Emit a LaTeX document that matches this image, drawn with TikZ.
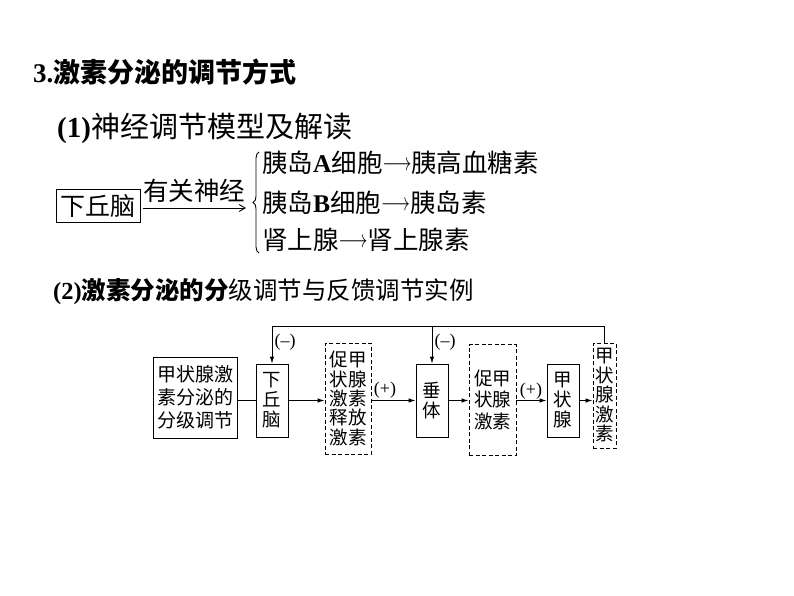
\documentclass[tikz,border=0pt]{standalone}
\usepackage{fontspec}
\setmainfont{Noto Sans CJK SC}
\newfontfamily\lat{Liberation Serif}
\usetikzlibrary{arrows.meta,decorations.pathreplacing}
\newcommand{\myarr}{\raisebox{0.1em}{\scalebox{0.72}[1]{$\longrightarrow$}}}
\begin{document}
\begin{tikzpicture}[x=1pt,y=-1pt,
  box/.style={draw, line width=0.9pt, inner sep=0pt, align=center, font=\fontsize{18.5}{20}\selectfont},
  dbox/.style={box, dash pattern=on 4pt off 2.5pt},
  arr/.style={line width=0.9pt, -{Latex[length=7pt,width=4.5pt]}},
  ln/.style={line width=0.9pt},
  lbl/.style={inner sep=0pt, font=\lat\fontsize{18}{18}\selectfont},
  txt/.style={inner sep=0pt, anchor=west}
]
\useasboundingbox (0,0) rectangle (794,596);
% headings
\node[txt] (h3) at (33,72) {\fontsize{27}{27}\selectfont\bfseries{\lat 3.}激素分泌的调节方式};
\node[txt] (h1) at (57,128) {\fontsize{29}{29}\selectfont{\lat\bfseries (1)}神经调节模型及解读};
\node[txt] (h2) at (53,292) {\fontsize{24.5}{24.5}\selectfont{\lat\bfseries (2)}\textbf{激素分泌的分}级调节与反馈调节实例};
% part (1)
\node[draw, line width=0.8pt, inner sep=0pt, minimum width=84pt, minimum height=33pt,
      font=\fontsize{25}{25}\selectfont] (hyp) at (98,206) {下丘脑};
\node[inner sep=0pt, font=\fontsize{25.5}{25.5}\selectfont] (nerve) at (194,191) {有关神经};
\coordinate (brl) at (246,208);
\draw[line width=0.9pt, -{Straight Barb[length=6pt,width=7pt]}] (hyp.east |- brl) ++(3,0) coordinate (arS) -- (brl);
\coordinate (bb) at (259,253);
\coordinate (bt) at (259,152);
\draw[line width=0.9pt, decorate, decoration={brace, amplitude=6pt}] (bb) -- (bt);
\node[txt, font=\fontsize{25.5}{25.5}\selectfont] (r1) at (262,163) {胰岛{\lat\bfseries A}细胞\myarr 胰高血糖素};
\node[txt, font=\fontsize{25.5}{25.5}\selectfont] (r2) at (262,203) {胰岛{\lat\bfseries B}细胞\myarr 胰岛素};
\node[txt, font=\fontsize{25.5}{25.5}\selectfont] (r3) at (262,240) {肾上腺\myarr 肾上腺素};
% part (2) diagram
\node[box, minimum width=84pt, minimum height=81pt, font=\fontsize{19}{23}\selectfont] (b1) at (195,397.5) {甲状腺激\\素分泌的\\分级调节};
\node[box, minimum width=32pt, minimum height=73pt] (hq) at (272,400.5) {下\\丘\\脑};
\node[dbox, minimum width=46pt, minimum height=111pt, font=\fontsize{18.5}{19.4}\selectfont] (d1) at (348,398.5) {促甲\\状腺\\激素\\释放\\激素};
\node[box, minimum width=32pt, minimum height=73pt] (pit) at (432,400.5) {垂\\体};
\node[dbox, minimum width=47pt, minimum height=111pt, font=\fontsize{18.5}{21.5}\selectfont] (d2) at (492.5,400) {促甲\\状腺\\激素};
\node[box, minimum width=32pt, minimum height=73pt] (thy) at (563,400.5) {甲\\状\\腺};
\node[dbox, minimum width=23pt, minimum height=105pt, font=\fontsize{18.5}{19.5}\selectfont] (d3) at (604.5,395.5) {甲\\状\\腺\\激\\素};
% connectors
\draw[ln] (b1.east |- hq.east) -- (hq.west);
\draw[arr] (hq.east) -- (hq.east -| d1.west);
\draw[arr] (d1.east |- pit.west) -- (pit.west);
\draw[arr] (pit.east) -- (pit.east -| d2.west);
\draw[arr] (d2.east |- thy.west) -- (thy.west);
\draw[arr] (thy.east) -- (thy.east -| d3.west);
\coordinate (fb) at (604.5,326);
\draw[arr] (d3.north) -- (fb) -| (hq.north);
\draw[arr] (pit.north |- fb) -- (pit.north);
% labels
\node[lbl] (m1) at (285,342) {(\textendash)};
\node[lbl] (m2) at (445,342) {(\textendash)};
\node[lbl] (p1) at (385,390) {(+)};
\node[lbl] (p2) at (531,391) {(+)};
\end{tikzpicture}
\end{document}
